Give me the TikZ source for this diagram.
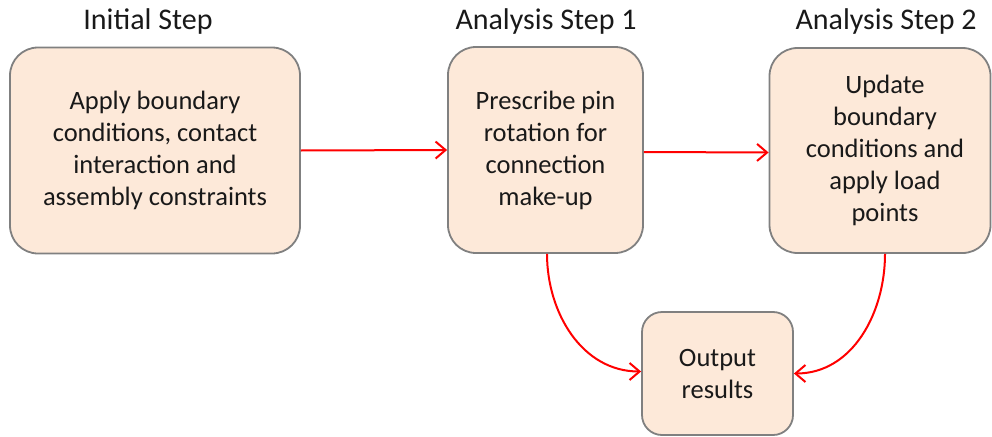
\documentclass[tikz,border=0pt]{standalone}
\usepackage{fontspec}
\setmainfont{Carlito}
\usetikzlibrary{arrows.meta}
\definecolor{boxfill}{RGB}{253,233,217}
\definecolor{boxline}{RGB}{128,128,128}
\definecolor{flowred}{RGB}{255,0,0}
\tikzset{
  stagebox/.style={draw=boxline, line width=1.8pt, fill=boxfill, rounded corners=28pt,
    align=center, inner sep=0pt, font=\fontsize{26.5}{32}\selectfont, text=black!90},
  resultbox/.style={stagebox, rounded corners=20pt},
  stagetitle/.style={font=\fontsize{30}{36}\selectfont, text=black!90, anchor=base},
  flow/.style={draw=flowred, line width=2pt, -{Straight Barb[length=10pt,width=17pt]}}
}
\begin{document}
\begin{tikzpicture}[x=1pt,y=-1pt]
  \useasboundingbox (0,0) rectangle (992,436);

  % stage headings
  \node[stagetitle] (t0) at (148,30) {Initial Step};
  \node[stagetitle] (t1) at (546,30) {Analysis Step 1};
  \node[stagetitle] (t2) at (886,30) {Analysis Step 2};

  % process boxes
  \node[stagebox, minimum width=290pt, minimum height=206pt] (init) at (155,150.5)
    {Apply boundary\\conditions, contact\\interaction and\\assembly constraints};
  \node[stagebox, minimum width=195pt, minimum height=206pt] (step1) at (545.5,150)
    {Prescribe pin\\rotation for\\connection\\make-up};
  \node[stagebox, minimum width=221pt, minimum height=205pt] (step2) at (880,150.5)
    {\hspace*{10pt}Update\\\hspace*{10pt}boundary\\\hspace*{10pt}conditions and\\\hspace*{10pt}apply load\\\hspace*{10pt}points};
  \node[resultbox, minimum width=151pt, minimum height=123pt] (out) at (717.5,373.5)
    {Output\\results};

  % connectors
  \draw[flow] (init.east) -- (step1.west);
  \draw[flow] ([yshift=-2pt]step1.east) -- ([yshift=-2pt]step2.west);
  \draw[flow] ([xshift=1.5pt]step1.south) to[out=-90, in=180] ([yshift=2pt]out.west);
  \draw[flow] ([xshift=5pt]step2.south) to[out=-90, in=0] (out.east);
\end{tikzpicture}
\end{document}
